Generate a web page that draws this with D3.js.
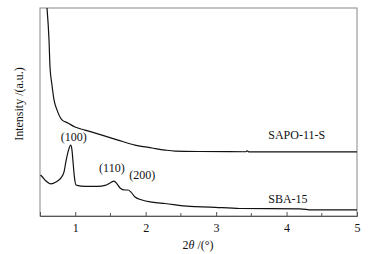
<!DOCTYPE html>
<html>
<head>
<meta charset="utf-8">
<script src="https://cdn.jsdelivr.net/npm/d3@7"></script>
<style>
  body { margin: 0; background: #fff; }
  text { font-family: "Liberation Serif", "Times New Roman", serif; }
</style>
</head>
<body>
<svg id="chart" width="381" height="254"></svg>
<script>
// SAPO-11-S curve (2theta, intensity a.u.)
var sapoX = [0.589, 0.599, 0.628, 0.642, 0.670, 0.699, 0.741, 0.812, 0.897, 0.997, 1.139, 1.380, 1.607, 1.849, 2.090, 2.275, 2.417, 2.771, 3.420, 3.440, 3.470, 5.000];
var sapoY = [103.8, 100, 84.6, 71.6, 63.0, 55.8, 51.0, 46.2, 44.7, 42.8, 41.3, 38.9, 36.5, 34.1, 32.7, 31.7, 31.2, 31.0, 30.9, 31.3, 30.8, 30.8];

// SBA-15 curve
var sbaX = [0.507, 0.528, 0.585, 0.656, 0.727, 0.798, 0.841, 0.869, 0.905, 0.936, 0.954, 0.968, 0.990, 1.011, 1.082, 1.210, 1.323, 1.423, 1.494, 1.551, 1.593, 1.636, 1.707, 1.749, 1.792, 1.849, 1.948, 2.090, 2.275, 2.629, 2.913, 3.339, 4.191, 4.360, 5.000];
var sbaY = [19.7, 19.0, 16.8, 15.4, 16.3, 18.3, 21.2, 26.4, 31.7, 34.1, 31.7, 26.4, 18.3, 14.9, 14.4, 14.2, 14.2, 14.7, 15.9, 16.8, 15.4, 13.5, 12.5, 12.5, 11.5, 9.1, 7.7, 6.7, 6.0, 4.6, 4.3, 3.6, 3.4, 2.9, 2.9];

var majorTicks = [1, 2, 3, 4, 5];
var minorTicks = [1.5, 2.5, 3.5, 4.5];

var peakLabels = ["(100)", "(110)", "(200)"];
var peakPosX = [0.98, 1.52, 1.95];
var peakPosY = [37.5, 22.5, 19.0];

var seriesNames = ["SAPO-11-S", "SBA-15"];
var seriesLabelY = [38.5, 7.7];

var svg = d3.select("#chart");
var mLeft = 40, mRight = 357, mTop = 8, mBottom = 216;

var x = d3.scaleLinear().domain([0.5, 5]).range([mLeft, mRight]);
var y = d3.scaleLinear().domain([0, 100]).range([mBottom, mTop]);

svg.append("clipPath").attr("id", "clip")
  .append("rect").attr("x", mLeft).attr("y", mTop)
  .attr("width", mRight - mLeft).attr("height", mBottom - mTop);

// frame
svg.append("rect")
  .attr("x", mLeft).attr("y", mTop)
  .attr("width", mRight - mLeft).attr("height", mBottom - mTop)
  .attr("fill", "none").attr("stroke", "#888").attr("stroke-width", 1);

// bottom axis with inward ticks
var axisG = svg.append("g").attr("transform", "translate(0," + mBottom + ")");
axisG.call(d3.axisBottom(x).tickValues(majorTicks).tickSize(-4).tickFormat(d3.format("d")).tickPadding(7));
axisG.select(".domain").attr("stroke", "#555");
axisG.selectAll(".tick line").attr("stroke", "#555");
axisG.selectAll(".tick text")
  .attr("font-size", 12).attr("fill", "#111")
  .style("font-family", "Liberation Serif, serif");
axisG.selectAll(".minor").data(minorTicks).enter().append("line")
  .attr("class", "minor")
  .attr("x1", function(d) { return x(d); }).attr("x2", function(d) { return x(d); })
  .attr("y1", 0).attr("y2", -3)
  .attr("stroke", "#555");

var line = d3.line()
  .x(function(d) { return x(d[0]); })
  .y(function(d) { return y(d[1]); })
  .curve(d3.curveMonotoneX);

var plot = svg.append("g").attr("clip-path", "url(#clip)");
plot.append("path")
  .datum(d3.zip(sapoX, sapoY))
  .attr("d", line).attr("fill", "none")
  .attr("stroke", "#111").attr("stroke-width", 1.2);
plot.append("path")
  .datum(d3.zip(sbaX, sbaY))
  .attr("d", line).attr("fill", "none")
  .attr("stroke", "#111").attr("stroke-width", 1.2);

// peak labels
svg.selectAll(".peak").data(peakLabels).enter().append("text")
  .attr("class", "peak")
  .attr("x", function(d, i) { return x(peakPosX[i]); })
  .attr("y", function(d, i) { return y(peakPosY[i]); })
  .attr("text-anchor", "middle").attr("dominant-baseline", "middle")
  .attr("font-size", 12).attr("fill", "#111")
  .text(function(d) { return d; });

// series names
svg.selectAll(".sname").data(seriesNames).enter().append("text")
  .attr("class", "sname")
  .attr("x", x(3.74))
  .attr("y", function(d, i) { return y(seriesLabelY[i]); })
  .attr("dominant-baseline", "middle")
  .attr("font-size", 12).attr("fill", "#111")
  .text(function(d) { return d; });

// axis titles
var xt = svg.append("text")
  .attr("x", 198).attr("y", 246)
  .attr("text-anchor", "middle").attr("dominant-baseline", "middle")
  .attr("font-size", 12).attr("fill", "#111");
xt.append("tspan").text("2");
xt.append("tspan").attr("font-style", "italic").text("θ");
xt.append("tspan").text(" /(°)");

svg.append("text")
  .attr("transform", "translate(20,104) rotate(-90)")
  .attr("text-anchor", "middle").attr("dominant-baseline", "middle")
  .attr("font-size", 12).attr("fill", "#111")
  .text("Intensity /(a.u.)");
</script>
</body>
</html>
